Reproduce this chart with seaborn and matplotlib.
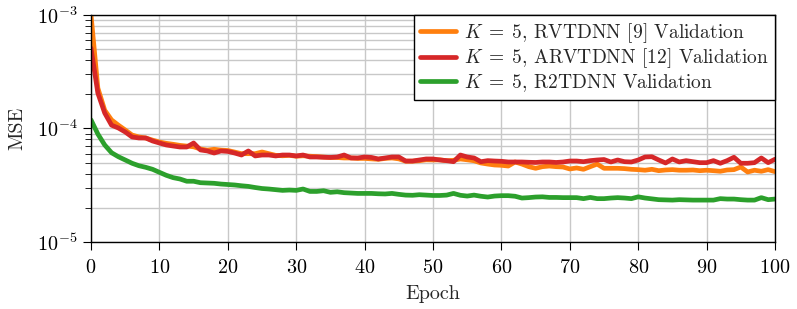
import numpy as np
import pandas as pd
import matplotlib
matplotlib.use("Agg")
import matplotlib.pyplot as plt
import seaborn as sns

# Validation MSE per epoch
epochs = list(range(101))

rvtdnn = [
    1.0e-3, 2.27e-4, 1.45e-4, 1.19e-4, 1.07e-4, 9.7e-5, 8.76e-5, 8.42e-5, 8.25e-5, 7.9e-5,
    7.6e-5, 7.4e-5, 7.26e-5, 7.1e-5, 7.0e-5, 6.9e-5, 6.6e-5, 6.45e-5, 6.56e-5, 6.45e-5,
    6.4e-5, 6.2e-5, 6.0e-5, 6.0e-5, 6.0e-5, 6.21e-5, 6.0e-5, 5.8e-5, 5.75e-5, 5.8e-5,
    5.7e-5, 5.75e-5, 5.7e-5, 5.65e-5, 5.6e-5, 5.55e-5, 5.55e-5, 5.5e-5, 5.5e-5, 5.45e-5,
    5.45e-5, 5.4e-5, 5.35e-5, 5.45e-5, 5.5e-5, 5.4e-5, 5.15e-5, 5.15e-5, 5.2e-5, 5.3e-5,
    5.28e-5, 5.3e-5, 5.2e-5, 5.25e-5, 5.39e-5, 5.3e-5, 5.2e-5, 4.97e-5, 4.86e-5, 4.77e-5,
    4.74e-5, 4.67e-5, 5.07e-5, 4.86e-5, 4.61e-5, 4.46e-5, 4.61e-5, 4.67e-5, 4.61e-5, 4.58e-5,
    4.4e-5, 4.49e-5, 4.37e-5, 4.61e-5, 4.86e-5, 4.46e-5, 4.46e-5, 4.46e-5, 4.43e-5, 4.37e-5,
    4.34e-5, 4.29e-5, 4.37e-5, 4.25e-5, 4.31e-5, 4.34e-5, 4.29e-5, 4.29e-5, 4.31e-5, 4.25e-5,
    4.29e-5, 4.25e-5, 4.2e-5, 4.31e-5, 4.34e-5, 4.58e-5, 4.14e-5, 4.29e-5, 4.2e-5, 4.34e-5,
    4.17e-5,
]

arvtdnn = [
    5.1e-4, 2.05e-4, 1.37e-4, 1.07e-4, 1.01e-4, 9.32e-5, 8.42e-5, 8.25e-5, 8.25e-5, 7.76e-5,
    7.45e-5, 7.16e-5, 7.01e-5, 6.87e-5, 6.87e-5, 7.45e-5, 6.47e-5, 6.34e-5, 6.08e-5, 6.34e-5,
    6.28e-5, 6.08e-5, 5.84e-5, 6.34e-5, 5.73e-5, 5.84e-5, 5.84e-5, 5.73e-5, 5.84e-5, 5.84e-5,
    5.73e-5, 5.84e-5, 5.61e-5, 5.61e-5, 5.58e-5, 5.56e-5, 5.61e-5, 5.84e-5, 5.5e-5, 5.5e-5,
    5.61e-5, 5.56e-5, 5.39e-5, 5.5e-5, 5.61e-5, 5.61e-5, 5.17e-5, 5.17e-5, 5.28e-5, 5.39e-5,
    5.39e-5, 5.28e-5, 5.21e-5, 5.1e-5, 5.84e-5, 5.61e-5, 5.5e-5, 5.1e-5, 5.21e-5, 5.17e-5,
    5.14e-5, 5.07e-5, 5.07e-5, 5.07e-5, 5.04e-5, 5.02e-5, 5.07e-5, 5.07e-5, 5.02e-5, 5.07e-5,
    5.17e-5, 5.17e-5, 5.1e-5, 5.21e-5, 5.28e-5, 5.33e-5, 5.07e-5, 5.28e-5, 5.1e-5, 5.07e-5,
    5.28e-5, 5.61e-5, 5.64e-5, 5.28e-5, 4.97e-5, 5.39e-5, 5.07e-5, 5.21e-5, 5.1e-5, 5.0e-5,
    5.0e-5, 5.21e-5, 4.94e-5, 5.21e-5, 5.58e-5, 4.94e-5, 4.94e-5, 5.0e-5, 5.5e-5, 5.0e-5,
    5.36e-5,
]

r2tdnn = [
    1.19e-4, 8.94e-5, 7.16e-5, 6.12e-5, 5.64e-5, 5.28e-5, 4.94e-5, 4.7e-5, 4.55e-5, 4.37e-5,
    4.11e-5, 3.87e-5, 3.69e-5, 3.59e-5, 3.43e-5, 3.43e-5, 3.33e-5, 3.31e-5, 3.29e-5, 3.24e-5,
    3.21e-5, 3.18e-5, 3.13e-5, 3.09e-5, 3.02e-5, 2.96e-5, 2.93e-5, 2.89e-5, 2.85e-5, 2.87e-5,
    2.85e-5, 2.93e-5, 2.79e-5, 2.79e-5, 2.83e-5, 2.74e-5, 2.77e-5, 2.72e-5, 2.7e-5, 2.68e-5,
    2.68e-5, 2.68e-5, 2.66e-5, 2.65e-5, 2.68e-5, 2.63e-5, 2.59e-5, 2.58e-5, 2.61e-5, 2.59e-5,
    2.57e-5, 2.57e-5, 2.59e-5, 2.68e-5, 2.58e-5, 2.54e-5, 2.59e-5, 2.53e-5, 2.49e-5, 2.54e-5,
    2.56e-5, 2.56e-5, 2.53e-5, 2.44e-5, 2.46e-5, 2.49e-5, 2.5e-5, 2.47e-5, 2.47e-5, 2.46e-5,
    2.46e-5, 2.46e-5, 2.41e-5, 2.47e-5, 2.41e-5, 2.41e-5, 2.44e-5, 2.46e-5, 2.44e-5, 2.41e-5,
    2.5e-5, 2.44e-5, 2.4e-5, 2.36e-5, 2.35e-5, 2.34e-5, 2.36e-5, 2.35e-5, 2.34e-5, 2.34e-5,
    2.34e-5, 2.34e-5, 2.41e-5, 2.39e-5, 2.39e-5, 2.36e-5, 2.34e-5, 2.34e-5, 2.46e-5, 2.36e-5,
    2.39e-5,
]

labels = [
    r"$K\;=\;5$, RVTDNN [9] Validation",
    r"$K\;=\;5$, ARVTDNN [12] Validation",
    r"$K\;=\;5$, R2TDNN Validation",
]
colors = ["#ff7f0e", "#d62728", "#2ca02c"]

df = pd.DataFrame({
    "Epoch": epochs * 3,
    "MSE": rvtdnn + arvtdnn + r2tdnn,
    "model": [labels[0]] * 101 + [labels[1]] * 101 + [labels[2]] * 101,
})

sns.set_style("ticks")
plt.rcParams["font.family"] = ["cmr10", "DejaVu Serif"]
plt.rcParams["mathtext.fontset"] = "cm"
plt.rcParams["axes.formatter.use_mathtext"] = True
plt.rcParams["axes.unicode_minus"] = False

fig = plt.figure(figsize=(7.97, 3.09), dpi=100)
ax = fig.add_axes([0.1142, 0.2168, 0.8582, 0.7347])

sns.lineplot(data=df, x="Epoch", y="MSE", hue="model", palette=colors,
             linewidth=3.4, ax=ax)

ax.set_yscale("log")
ax.set_xlim(0, 100)
ax.set_ylim(1e-5, 1e-3)
ax.set_xticks(range(0, 101, 10))

ax.grid(True, which="major", axis="x", color="#c8c8c8", linewidth=1)
ax.grid(True, which="both", axis="y", color="#c8c8c8", linewidth=1)
ax.set_axisbelow(True)

for s in ax.spines.values():
    s.set_color("black")
    s.set_linewidth(1)
ax.tick_params(which="major", length=6, width=0.8, colors="black", labelsize=14.5)
ax.tick_params(which="minor", length=4, width=0.6, colors="black")
ax.tick_params(axis="x", pad=6)

ax.set_xlabel("Epoch", fontsize=14.5, labelpad=6)
ax.set_ylabel("MSE", fontsize=14.5, labelpad=8)

leg = ax.legend(loc="upper right", fontsize=14, frameon=True, fancybox=False,
                borderaxespad=0, handlelength=1.85, handletextpad=0.45,
                labelspacing=0.1, borderpad=0.3)
leg.get_frame().set_edgecolor("black")
leg.get_frame().set_linewidth(1)
leg.get_frame().set_alpha(1)

fig.savefig("out.png", dpi=100)
